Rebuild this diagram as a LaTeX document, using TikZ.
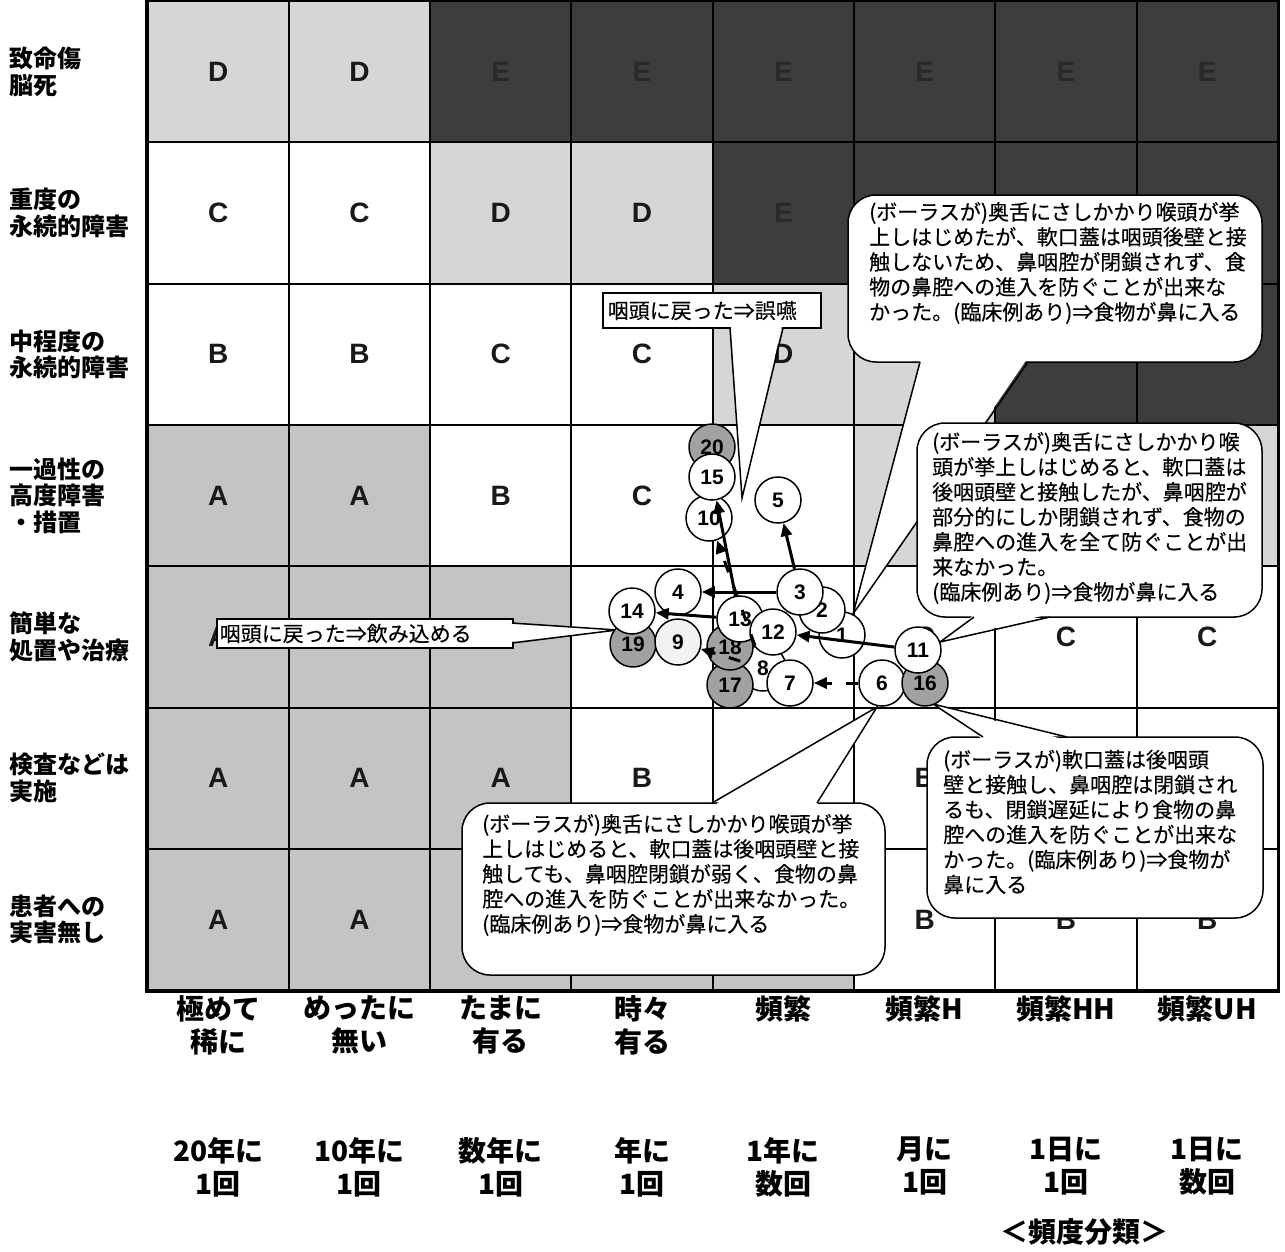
\documentclass[tikz,border=0pt]{standalone}
\usepackage{fontspec}
\setmainfont{Liberation Sans}
\newfontfamily\jp{Noto Sans CJK JP}
\newfontfamily\jpm{Noto Sans CJK JP}[FakeBold=0.3]
\usetikzlibrary{arrows.meta}
\definecolor{fillA}{gray}{0.77}
\definecolor{fillB}{gray}{1}
\definecolor{fillC}{gray}{1}
\definecolor{fillD}{gray}{0.84}
\definecolor{fillE}{gray}{0.24}
\definecolor{textA}{gray}{0.1}
\definecolor{textB}{gray}{0.1}
\definecolor{textC}{gray}{0.1}
\definecolor{textD}{gray}{0.1}
\definecolor{textE}{gray}{0.16}
\definecolor{circgray}{gray}{0.63}
\definecolor{circlight}{gray}{0.95}
\begin{document}
\begin{tikzpicture}[x=1pt,y=-1pt,
  cell/.style={draw=black, line width=2pt, minimum width=141.3pt, minimum height=141.3pt, inner sep=0pt, font=\fontsize{28}{28}\selectfont\bfseries},
  rowlab/.style={anchor=west, align=left, inner sep=0pt, font=\jp\bfseries\fontsize{24}{26.5}\selectfont},
  collab/.style={anchor=north, align=center, inner sep=0pt, font=\jp\bfseries\fontsize{28}{33}\selectfont},
  bubble/.style={draw=black, line width=1.5pt, fill=white, rounded corners=28pt, inner sep=0pt},
  btext/.style={anchor=west, align=left, inner sep=0pt, font=\jpm\fontsize{21}{25}\selectfont},
  tag/.style={draw=black, line width=1.5pt, fill=white, inner ysep=0pt, align=left, anchor=west, font=\jpm\fontsize{21}{25}\selectfont},
  tail/.style={draw=black, line width=1.5pt},
  circ/.style={circle, draw=black, line width=1.5pt, fill=white, minimum size=46pt, inner sep=0pt, font=\fontsize{21}{21}\selectfont\bfseries},
  gcirc/.style={circ, fill=circgray},
  arr/.style={line width=3pt, -{Triangle[length=13pt,width=11pt]}},
  darr/.style={arr, dash pattern=on 12pt off 14pt}
]
\useasboundingbox (0,0) rectangle (1285,1251);
\fill[white] (0,0) rectangle (1285,1251);

% grid cells: fill class / printed letter (empty where fully covered)
\foreach \r/\row in {
  1/{D/D,D/D,E/E,E/E,E/E,E/E,E/E,E/E},
  2/{C/C,C/C,D/D,D/D,E/E,E/,E/,E/},
  3/{B/B,B/B,C/C,C/C,D/D,D/,E/E,E/E},
  4/{A/A,A/A,B/B,C/C,C/,D/,D/,D/},
  5/{A/A,A/,A/,B/,C/,C/C,C/C,C/C},
  6/{A/A,A/A,A/A,B/B,B/,B/B,B/,B/},
  7/{A/A,A/A,A/,A/,A/,B/B,B/B,B/B}}{
  \foreach \L/\T [count=\c] in \row {
    \node[cell, fill=fill\L, text=text\L] (cell-\r-\c) at ({147.5+(\c-0.5)*141.3},{1+(\r-0.5)*141.3}) {\T};
  }
}
\draw[line width=3pt] (cell-1-1.north west) rectangle (cell-7-8.south east);

% row labels
\node[rowlab] (r1) at (9,71.6) {致命傷\\脳死};
\node[rowlab] (r2) at (9,212.9) {重度の\\永続的障害};
\node[rowlab] (r3) at (9,354.2) {中程度の\\永続的障害};
\node[rowlab] (r4) at (9,495.5) {一過性の\\高度障害\\・措置};
\node[rowlab] (r5) at (9,636.8) {簡単な\\処置や治療};
\node[rowlab] (r6) at (9,778.1) {検査などは\\実施};
\node[rowlab] (r7) at (9,919.4) {患者への\\実害無し};

% column labels
\foreach \t [count=\c] in {{極めて\\稀に},{めったに\\無い},{たまに\\有る},{時々\\有る},{頻繁},{頻繁H},{頻繁HH},{頻繁UH}}{
  \node[collab] (h\c) at ({147.5+(\c-0.5)*141.3},995) {\t};
}
\foreach \t [count=\c] in {{20年に\\1回},{10年に\\1回},{数年に\\1回},{年に\\1回},{1年に\\数回},{月に\\1回},{1日に\\1回},{1日に\\数回}}{
  \node[collab] (q\c) at ({147.5+(\c-0.5)*141.3},1137) {\t};
}
\node[collab, anchor=center] (title) at (1084,1232) {＜頻度分類＞};

% tip coordinates
\coordinate (tipA) at (853,614);
\coordinate (tipB) at (940,642);
\coordinate (tipC) at (877,707);
\coordinate (tipD) at (933,704);
\coordinate (tipE) at (742,498);
\coordinate (tipF) at (617,630);

% tag boxes
\node[tag, text width=208pt, inner xsep=5pt, minimum height=35pt] (g1) at (602,310.5) {咽頭に戻った⇒誤嚥};
\fill[white] (731,326) -- (tipE) -- (782,326) -- cycle;
\draw[tail] (730,328) -- (tipE) -- (783,328);

\node[tag, text width=290pt, inner xsep=3pt, minimum height=29pt] (g2) at (216,633.5) {咽頭に戻った⇒飲み込める};
\fill[white] (510,624) -- (tipF) -- (510,642) -- cycle;
\draw[tail] (512,623) -- (tipF) -- (512,643);

% callout 1
\node[bubble, minimum width=414pt, minimum height=167pt] (b1) at (1055,278.5) {};
\fill[white] (921,359) -- (tipA) -- (1027,359) -- cycle;
\draw[tail] (920,362) -- (tipA) -- (1028,362);
\node[btext] (b1t) at (869,263) {(ボーラスが)奥舌にさしかかり喉頭が挙\\上しはじめたが、軟口蓋は咽頭後壁と接\\触しないため、鼻咽腔が閉鎖されず、食\\物の鼻腔への進入を防ぐことが出来な\\かった。(臨床例あり)⇒食物が鼻に入る};

% callout 2
\node[bubble, minimum width=345pt, minimum height=194pt] (b2) at (1089.5,520) {};
\fill[white] (975,614) -- (tipB) -- (1049,614) -- cycle;
\draw[tail] (974,617) -- (tipB) -- (1050,617);
\node[btext] (b2t) at (932,518) {(ボーラスが)奥舌にさしかかり喉\\頭が挙上しはじめると、軟口蓋は\\後咽頭壁と接触したが、鼻咽腔が\\部分的にしか閉鎖されず、食物の\\鼻腔への進入を全て防ぐことが出\\来なかった。\\(臨床例あり)⇒食物が鼻に入る};

% callout 3
\node[bubble, minimum width=423pt, minimum height=172pt] (b3) at (673.5,889) {};
\fill[white] (713,806) -- (tipC) -- (816,806) -- cycle;
\draw[tail] (712,803) -- (tipC) -- (817,803);
\node[btext] (b3t) at (482,875) {(ボーラスが)奥舌にさしかかり喉頭が挙\\上しはじめると、軟口蓋は後咽頭壁と接\\触しても、鼻咽腔閉鎖が弱く、食物の鼻\\腔への進入を防ぐことが出来なかった。\\(臨床例あり)⇒食物が鼻に入る};

% callout 4
\node[bubble, minimum width=336pt, minimum height=181pt] (b4) at (1095,827.5) {};
\fill[white] (984,740) -- (tipD) -- (1066,740) -- cycle;
\draw[tail] (983,737) -- (tipD) -- (1067,737);
\node[btext] (b4t) at (943,822) {(ボーラスが)軟口蓋は後咽頭\\壁と接触し、鼻咽腔は閉鎖され\\るも、閉鎖遅延により食物の鼻\\腔への進入を防ぐことが出来な\\かった。(臨床例あり)⇒食物が\\鼻に入る};

% circles (back to front)
\node[circ] (c8) at (763,668) {8};
\node[gcirc] (c20) at (712,447) {20};
\node[circ] (c10) at (709,518) {10};
\node[circ] (c15) at (712,477) {15};
\node[gcirc] (c19) at (633,644) {19};
\node[circ] (c14) at (632,611) {14};
\node[circ, fill=circlight] (c9) at (678,642) {9};
\node[circ] (c4) at (678,592) {4};
\node[circ] (c1) at (842,635) {1};
\node[circ] (c2) at (822,610) {2};
\node[circ] (c3) at (800,592) {3};
\node[circ] (c5) at (778,500) {5};
\node[gcirc] (c17) at (730,685) {17};
\node[gcirc] (c18) at (730,647) {18};
\node[circ] (c13) at (740,619) {13};
\node[circ] (c12) at (773,632) {12};
\node[circ] (c7) at (790,683) {7};
\node[circ] (c6) at (882,683) {6};
\node[gcirc] (c16) at (925,683) {16};
\node[circ] (c11) at (918,650) {11};

% arrows
\draw[arr] (c3) -- (c5);
\draw[arr] (c3) -- (c4);
\draw[darr] (c6) -- (c7);
\draw[darr] (c8) -- (c9);
\draw[darr] (c8) -- (c10);
\draw[arr] (c11) -- (c12);
\draw[arr] (c13) -- (c14);
\draw[arr] (c13) -- (c15);
\end{tikzpicture}
\end{document}
